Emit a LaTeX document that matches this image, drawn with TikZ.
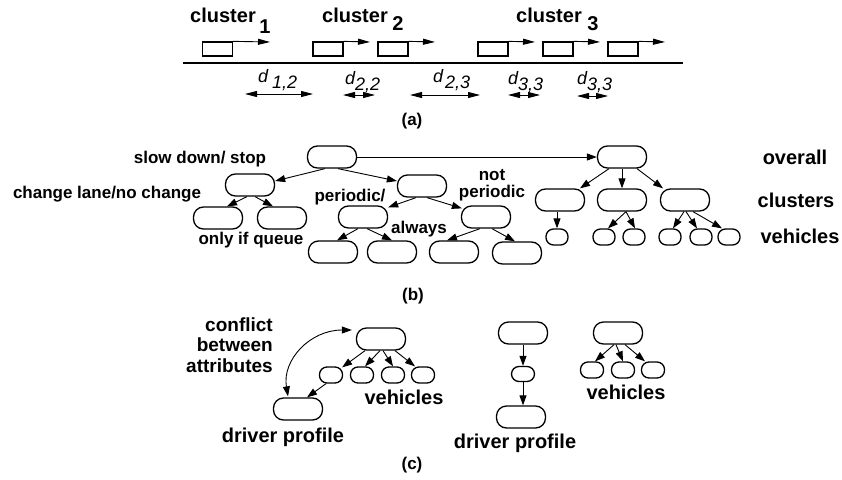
\documentclass[tikz,border=0pt]{standalone}
\usepackage{fontspec}
\setmainfont{Liberation Sans}
\usetikzlibrary{arrows.meta,calc}
\begin{document}
\begin{tikzpicture}[x=1pt,y=-1pt,
  every node/.style={font=\bfseries\fontsize{17}{17}\selectfont, inner sep=0pt},
  big/.style={font=\bfseries\fontsize{20}{20}\selectfont},
  car/.style={draw, line width=1.3pt, minimum width=30pt, minimum height=14pt},
  pill/.style={draw, line width=1.3pt, rounded corners=10pt, minimum width=49pt, minimum height=22pt},
  spill/.style={draw, line width=1.3pt, rounded corners=7.5pt, minimum width=23pt, minimum height=16pt},
  arr/.style={line width=0.9pt, -{Triangle[length=10pt,width=7pt]}},
  carr/.style={line width=0.9pt, -{Triangle[length=12pt,width=6pt]}},
  darr/.style={line width=0.9pt, {Triangle[length=12pt,width=6pt]}-{Triangle[length=12pt,width=6pt]}},
  carc/.style={line width=0.9pt, {Triangle[length=10pt,width=7pt]}-{Triangle[length=10pt,width=7pt]}},
  dlab/.style={font=\itshape\fontsize{18}{18}\selectfont, anchor=west},
]
\useasboundingbox[fill=white] (0,0) rectangle (842,479);

% ---------- (a) vehicles on the road ----------
\node[big] (cl1) at (223,15) {cluster};
\node[big] (cl1n) at (265,27) {1};
\node[big] (cl2) at (355,15) {cluster};
\node[big] (cl2n) at (398,24) {2};
\node[big] (cl3) at (549,15) {cluster};
\node[big] (cl3n) at (593,24) {3};

\node[car] (car1) at (217.5,49) {};
\node[car] (car2) at (328,49) {};
\node[car] (car3) at (393,49) {};
\node[car] (car4) at (493,49) {};
\node[car] (car5) at (558,49) {};
\node[car] (car6) at (623,49) {};
\coordinate (h1) at (270,42);
\coordinate (h2) at (370,42);
\coordinate (h3) at (435,42);
\coordinate (h4) at (535,42);
\coordinate (h5) at (600,42);
\coordinate (h6) at (665,42);
\draw[carr] (car1.north east) -- (h1);
\draw[carr] (car2.north east) -- (h2);
\draw[carr] (car3.north east) -- (h3);
\draw[carr] (car4.north east) -- (h4);
\draw[carr] (car5.north east) -- (h5);
\draw[carr] (car6.north east) -- (h6);

\coordinate (roadL) at (183,63);
\coordinate (roadR) at (683,63);
\draw[line width=1.3pt] (roadL) -- (roadR);

\node[dlab] (d12) at (258,80) {d\hspace{4pt}\raisebox{-6pt}{1,2}};
\node[dlab] (d22) at (345,82) {d\raisebox{-6pt}{2,2}};
\node[dlab] (d23) at (433,80) {d\hspace{2pt}\raisebox{-6pt}{2,3}};
\node[dlab] (d33a) at (508,82) {d\raisebox{-6pt}{3,3}};
\node[dlab] (d33b) at (577,82) {d\raisebox{-6pt}{3,3}};
\coordinate (a12l) at (245,94);  \coordinate (a12r) at (313,94);
\coordinate (a22l) at (343,95);  \coordinate (a22r) at (375,95);
\coordinate (a23l) at (410,95);  \coordinate (a23r) at (480,95);
\coordinate (a33l) at (508,95);  \coordinate (a33r) at (540,95);
\coordinate (b33l) at (577,96);  \coordinate (b33r) at (608,96);
\draw[darr] (a12l) -- (a12r);
\draw[darr] (a22l) -- (a22r);
\draw[darr] (a23l) -- (a23r);
\draw[darr] (a33l) -- (a33r);
\draw[darr] (b33l) -- (b33r);

\node (capa) at (412,121) {(a)};

% ---------- (b) decision tree and hierarchy ----------
\node[pill] (b1) at (332,157) {};
\node[pill] (cl) at (250,185) {};
\node[pill] (pe) at (422,186) {};
\node[pill] (q1) at (218,218) {};
\node[pill] (q2) at (282,218) {};
\node[pill] (pc) at (363,217) {};
\node[pill] (np) at (486,217) {};
\node[pill] (g1) at (333,252) {};
\node[pill] (g2) at (392,252) {};
\node[pill] (g3) at (454,252) {};
\node[pill] (g4) at (517,253) {};

\draw[arr] ($(b1.south)+(-7,0)$) -- ($(cl.east)+(0,-4)$);
\draw[arr] ($(b1.south)+(6,0)$) -- ($(pe.west)+(0,-5)$);
\draw[arr] ($(cl.south)+(-3,0)$) -- ($(q1.north)+(9,0)$);
\draw[arr] ($(cl.south)+(5,0)$) -- ($(q2.north)+(-9,0)$);
\draw[arr] ($(pe.south)+(-6,0)$) -- ($(pc.north east)+(0,2)$);
\draw[arr] ($(pe.south)+(5,0)$) -- ($(np.north west)+(1,3)$);
\draw[arr] ($(pc.south)+(-5,0)$) -- ($(g1.north)+(4,0)$);
\draw[arr] ($(pc.south)+(4,0)$) -- (g2.north);
\draw[arr] ($(np.south)+(-6,0)$) -- ($(g3.north)+(-7,0)$);
\draw[arr] ($(np.south)+(6,0)$) -- ($(g4.north)+(-2,0)$);

\node (lslow) at (200,159) {slow down/ stop};
\node (lchange) at (107,194) {change lane/no change};
\node (lqueue) at (251,240) {only if queue};
\node (lper) at (350,197) {periodic/};
\node (lalw) at (419,229) {always};
\node[align=center] (lnot) at (492,185) {not\\periodic};

\node[pill] (ov) at (622,157) {};
\node[pill] (c1) at (560,200) {};
\node[pill] (c2) at (622,200) {};
\node[pill] (c3) at (685,200) {};
\node[spill, minimum width=22pt] (v1) at (557,237) {};
\node[spill, minimum width=22pt] (v2) at (604,237) {};
\node[spill, minimum width=22pt] (v3) at (634,237) {};
\node[spill, minimum width=22pt] (v4) at (670,237) {};
\node[spill, minimum width=22pt] (v5) at (701,237) {};
\node[spill, minimum width=22pt] (v6) at (729,237) {};

\draw[arr] (b1.east) -- (ov.west);
\draw[arr] ($(ov.south)+(-13,0)$) -- ($(c1.north)+(20,0)$);
\draw[arr] (ov.south) -- (c2.north);
\draw[arr] ($(ov.south)+(15,0)$) -- ($(c3.north)+(-22,0)$);
\draw[arr] (c1.south -| v1) -- (v1.north);
\draw[arr] ($(c2.south)+(4,0)$) -- ($(v2.north)+(4,0)$);
\draw[arr] ($(c2.south)+(4,0)$) -- ($(v3.north)+(1,0)$);
\draw[arr] ($(c3.south)+(-1,0)$) -- ($(v4.north)+(3,0)$);
\draw[arr] ($(c3.south)+(1,0)$) -- ($(v5.north)+(-4,0)$);
\draw[arr] ($(c3.south)+(8,0)$) -- ($(v6.north)+(-7,0)$);

\node[big] (lover) at (795,157) {overall};
\node[big] (lclus) at (796,200) {clusters};
\node[big] (lveh) at (800,236) {vehicles};

\node (capb) at (413,296) {(b)};

% ---------- (c) driver profile ----------
\node[pill] (r1) at (381,339) {};
\node[spill] (w1) at (331,375) {};
\node[spill] (w2) at (362,375) {};
\node[spill] (w3) at (393,375) {};
\node[spill] (w4) at (423,375) {};
\node[pill] (dp) at (298,409) {};

\draw[arr] ($(r1.south)+(-16,0)$) -- ($(w1.north east)+(-1,1)$);
\draw[arr] ($(r1.south)+(-1,0)$) -- ($(w2.north)+(3,0)$);
\draw[arr] ($(r1.south)+(2,0)$) -- (w3.north);
\draw[arr] ($(r1.south)+(14,0)$) -- ($(w4.north)+(-8,0)$);
\draw[arr] ($(w1.south)+(-5,0)$) -- ($(dp.north)+(9,0)$);
\draw[carc] ($(dp.north)+(-10,-1)$) .. controls (282,360) and (310,330) .. ($(r1.west)+(-4,-9)$);

\node[align=right, anchor=east, font=\bfseries\fontsize{19}{20.5}\selectfont] (lconf) at (273,345) {conflict\\between\\attributes};
\node[big] (lveh2) at (404,397) {vehicles};
\node[big] (ldp1) at (283,437) {driver profile};

\node[pill] (m1) at (523,333) {};
\node[spill, minimum height=15pt] (m2) at (523,374) {};
\node[pill] (m3) at (521,417) {};
\draw[arr] (m1.south) -- (m2.north);
\draw[arr] (m2.south) -- (m2.south |- m3.north);
\node[big] (ldp2) at (515,443) {driver profile};

\node[pill] (n1) at (618,333) {};
\node[spill] (u1) at (592,370) {};
\node[spill] (u2) at (623,370) {};
\node[spill] (u3) at (653,370) {};
\draw[arr] ($(n1.south)+(-4,0)$) -- ($(u1.north)+(3,0)$);
\draw[arr] ($(n1.south)+(-2,0)$) -- (u2.north);
\draw[arr] ($(n1.south)+(7,0)$) -- ($(u3.north)+(-8,0)$);
\node[big] (lveh3) at (626,392) {vehicles};

\node (capc) at (412,465) {(c)};
\end{tikzpicture}
\end{document}
